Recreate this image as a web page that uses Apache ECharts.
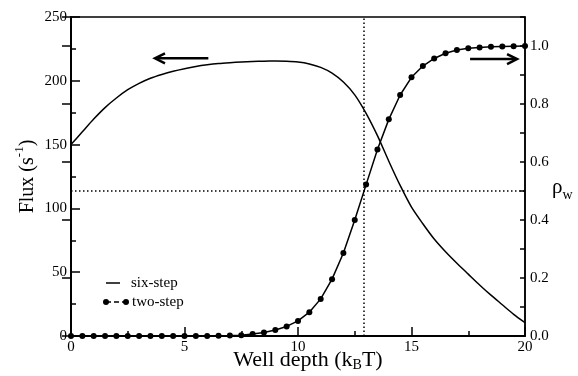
<!DOCTYPE html>
<html><head><meta charset="utf-8">
<script src="https://cdn.jsdelivr.net/npm/echarts@6/dist/echarts.min.js"></script>
<style>html,body{margin:0;padding:0;background:#fff}#c{width:578px;height:376px}</style>
</head><body><div id="c"></div>
<script>
// ---- data ----
const wellDepth = [0,0.5,1,1.5,2,2.5,3,3.5,4,4.5,5,5.5,6,6.5,7,7.5,8,8.5,9,9.5,10,10.5,11,11.5,12,12.5,13,13.5,14,14.5,15,15.5,16,16.5,17,17.5,18,18.5,19,19.5,20];
const sixStepFlux = [150,160,170,179,186.5,193,198,202,205,207.5,209.5,211.2,212.5,213.5,214.2,214.8,215.2,215.4,215.5,215.3,214.7,213.2,210.5,206,199,189,174.5,157,137,118,101,88,76,66,57,48.5,40,32,24.5,17,10.5];
const twoStepRho = [0,0,0,0,0,0,0,0,0,0,0,0.0002,0.0004,0.0007,0.0015,0.003,0.007,0.012,0.021,0.033,0.052,0.082,0.128,0.196,0.286,0.400,0.522,0.643,0.747,0.831,0.892,0.931,0.957,0.975,0.986,0.992,0.995,0.997,0.998,0.999,1.0];
const xTicks = [0,5,10,15,20];
const fluxTicks = [0,50,100,150,200,250];
const rhoTicks = [0,0.2,0.4,0.6,0.8,1.0];
const rhoAxisMax = 1.1;
const crossDepth = 12.9;   // vertical dotted line
const crossRho = 0.5;      // horizontal dotted line
const fluxArrow = {from:[6.05,217.6], to:[3.7,217.6]};
const rhoArrow = {from:[17.58,0.955], to:[19.65,0.955]};

const F = '"Liberation Serif","Times New Roman",serif';
const ink = '#000';
const chart = echarts.init(document.getElementById('c'), null, {renderer:'canvas'});

const tickStyle = {color:ink,width:1.5};
const option = {
  animation:false,
  backgroundColor:'#fff',
  grid:{left:71,right:53,top:17,bottom:40,containLabel:false,outerBoundsMode:'none',show:true,borderColor:ink,borderWidth:1.5,backgroundColor:'transparent'},
  xAxis:[{
    type:'value', min:xTicks[0], max:xTicks[xTicks.length-1], interval:xTicks[1]-xTicks[0], position:'bottom',
    axisLine:{show:true,onZero:false,lineStyle:{color:ink,width:2}},
    axisTick:{show:true,inside:true,length:9,lineStyle:tickStyle},
    minorTick:{show:true,splitNumber:2,length:5,lineStyle:tickStyle},
    splitLine:{show:false}, minorSplitLine:{show:false},
    axisLabel:{color:ink,fontFamily:F,fontSize:15,margin:4},
    name:'Well depth (k{b|B}T)', nameLocation:'middle', nameGap:12, nameMoveOverlap:false,
    nameTextStyle:{color:ink,fontFamily:F,fontSize:22,lineHeight:24,padding:[0,0,0,20],
      rich:{b:{color:ink,fontFamily:F,fontSize:14,lineHeight:9,verticalAlign:'bottom'}}}
  }],
  yAxis:[{
    type:'value', min:fluxTicks[0], max:fluxTicks[fluxTicks.length-1], interval:fluxTicks[1]-fluxTicks[0], position:'left',
    axisLine:{show:true,onZero:false,lineStyle:{color:ink,width:2}},
    axisTick:{show:true,inside:true,length:9,lineStyle:tickStyle},
    minorTick:{show:true,splitNumber:2,length:5,lineStyle:tickStyle},
    splitLine:{show:false}, minorSplitLine:{show:false},
    axisLabel:{color:ink,fontFamily:F,fontSize:15,margin:4},
    name:'Flux (s{p|-1})', nameLocation:'middle', nameGap:28, nameRotate:90, nameMoveOverlap:false,
    nameTextStyle:{color:ink,fontFamily:F,fontSize:20,lineHeight:30,
      rich:{p:{color:ink,fontFamily:F,fontSize:13,lineHeight:13,verticalAlign:'top'}}}
  },{
    type:'value', min:0, max:rhoAxisMax, interval:0.1, position:'right',
    axisLine:{show:true,onZero:false,lineStyle:{color:ink,width:1.5}},
    axisTick:{show:true,inside:true,length:5,lineStyle:tickStyle},
    splitLine:{show:false},
    axisLabel:{color:ink,fontFamily:F,fontSize:15,margin:5,
      formatter:function(v){ const k=Math.round(v*10); return (k%2===0 && v<=rhoTicks[rhoTicks.length-1]+1e-9)? (k/10).toFixed(1):''; }},
    name:'ρ{w|w}', nameLocation:'middle', nameGap:27, nameRotate:0, nameMoveOverlap:false,
    nameTextStyle:{color:ink,fontFamily:F,fontSize:21,lineHeight:30,padding:[22,0,0,0],
      rich:{w:{color:ink,fontFamily:F,fontSize:14,lineHeight:14,verticalAlign:'bottom'}}}
  },{
    type:'value', min:0, max:rhoAxisMax, interval:rhoTicks[1]-rhoTicks[0], position:'right',
    axisLine:{show:false}, axisLabel:{show:false}, splitLine:{show:false},
    axisTick:{show:true,inside:true,length:9,lineStyle:tickStyle}
  }],
  series:[{
    name:'six-step', type:'line', xAxisIndex:0, yAxisIndex:0,
    data: wellDepth.map((x,i)=>[x,sixStepFlux[i]]),
    symbol:'none', showSymbol:false, smooth:0.25,
    lineStyle:{color:ink,width:1.5}, z:3
  },{
    name:'two-step', type:'line', xAxisIndex:0, yAxisIndex:1,
    data: wellDepth.map((x,i)=>[x,twoStepRho[i]]),
    symbol:'circle', symbolSize:6, itemStyle:{color:ink}, clip:false,
    lineStyle:{color:ink,width:1.5}, z:4,
    markLine:{silent:true, symbol:'none', label:{show:false},
      lineStyle:{color:ink,width:1.5,type:[1.5,2.5]},
      data:[{xAxis:crossDepth},{yAxis:crossRho}]}
  }]
};
chart.setOption(option);

function arrow(p0, p1){
  const dx=p1[0]-p0[0], dy=p1[1]-p0[1], L=Math.hypot(dx,dy), ux=dx/L, uy=dy/L;
  const hl=10, hw=5;
  const a=[p1[0]-ux*hl-uy*hw, p1[1]-uy*hl+ux*hw];
  const b=[p1[0]-ux*hl+uy*hw, p1[1]-uy*hl-ux*hw];
  return [
    {type:'line', shape:{x1:p0[0],y1:p0[1],x2:p1[0]-ux*1,y2:p1[1]}, style:{stroke:ink,lineWidth:2.5}},
    {type:'polyline', shape:{points:[a,p1,b]}, style:{stroke:ink,lineWidth:2.5,fill:null,lineJoin:'miter'}}
  ];
}
const fa0 = chart.convertToPixel({xAxisIndex:0,yAxisIndex:0}, fluxArrow.from);
const fa1 = chart.convertToPixel({xAxisIndex:0,yAxisIndex:0}, fluxArrow.to);
const ra0 = chart.convertToPixel({xAxisIndex:0,yAxisIndex:1}, rhoArrow.from);
const ra1 = chart.convertToPixel({xAxisIndex:0,yAxisIndex:1}, rhoArrow.to);

const legendItems = [
  {type:'line', shape:{x1:106,y1:283,x2:120,y2:283}, style:{stroke:ink,lineWidth:1.5}},
  {type:'text', style:{x:131,y:283,text:'six-step',font:'15px '+F,fill:ink,verticalAlign:'middle'}},
  {type:'line', shape:{x1:106,y1:302,x2:126,y2:302}, style:{stroke:ink,lineWidth:1.5,lineDash:[5,3]}},
  {type:'circle', shape:{cx:106,cy:302,r:3}, style:{fill:ink}},
  {type:'circle', shape:{cx:126,cy:302,r:3}, style:{fill:ink}},
  {type:'text', style:{x:132,y:302,text:'two-step',font:'15px '+F,fill:ink,verticalAlign:'middle'}}
];
chart.setOption({graphic:[...arrow(fa0,fa1), ...arrow(ra0,ra1), ...legendItems]});
</script></body></html>
